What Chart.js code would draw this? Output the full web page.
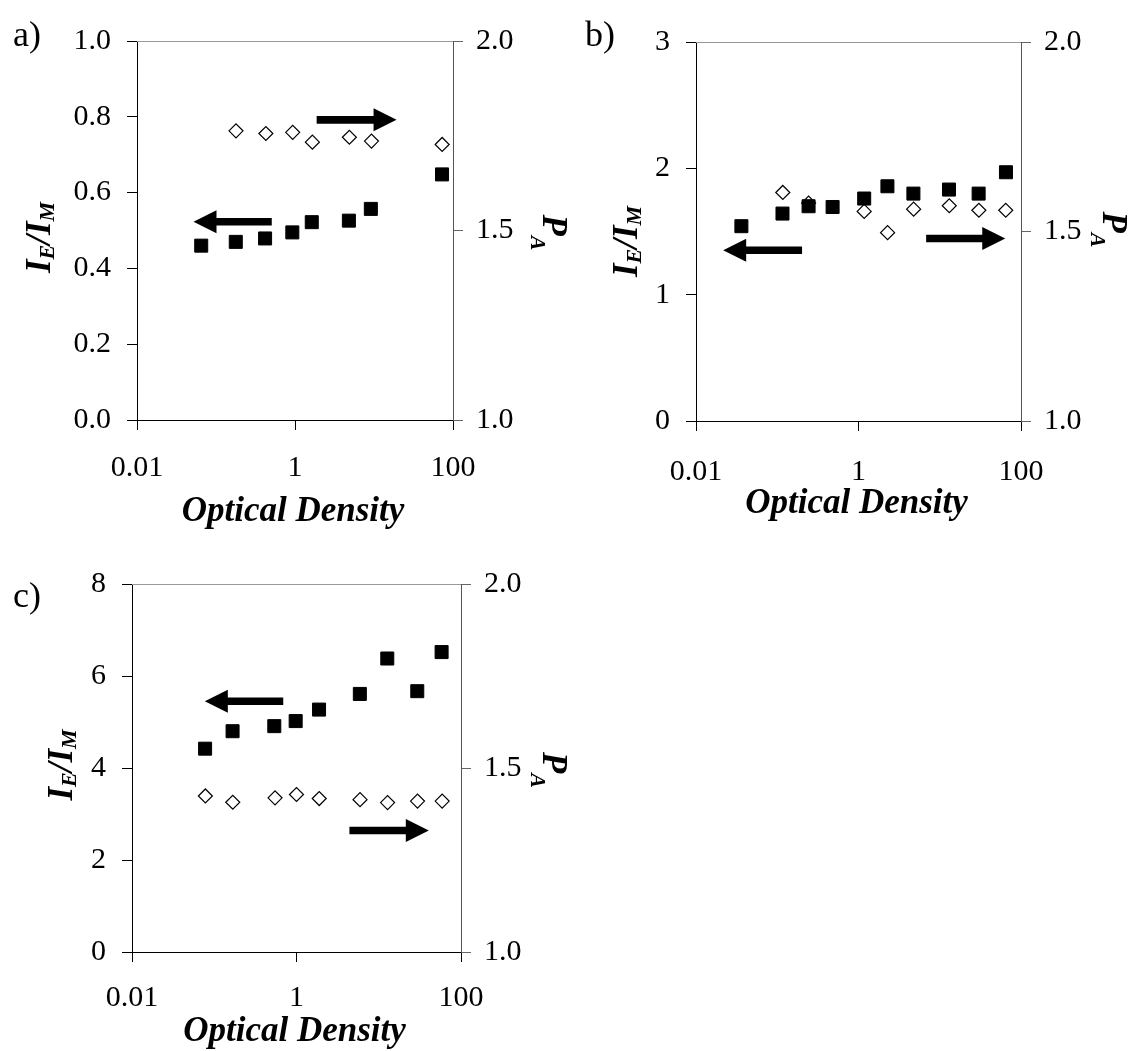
<!DOCTYPE html>
<html>
<head>
<meta charset="utf-8">
<title>Optical density panels</title>
<script src="https://cdn.jsdelivr.net/npm/chart.js@4.4.0/dist/chart.umd.min.js"></script>
<style>
  html, body { margin: 0; padding: 0; background: #fff; }
  #wrap { position: relative; width: 1132px; height: 1051px; overflow: hidden; }
  #wrap canvas { position: absolute; }
</style>
</head>
<body>
<div id="wrap">
  <canvas id="panelA" width="580" height="545" style="left:0;top:0;width:580px;height:545px"></canvas>
  <canvas id="panelB" width="572" height="545" style="left:560px;top:0;width:572px;height:545px"></canvas>
  <canvas id="panelC" width="580" height="531" style="left:0;top:520px;width:580px;height:531px"></canvas>
</div>
<script>
// ---- shared axis ticks ----
const xTicks = [0.01, 1, 100];
const xTickLabels = ['0.01', '1', '100'];
const paTicks = [1.0, 1.5, 2.0];
const paTickLabels = ['1.0', '1.5', '2.0'];

// ---- panel a) ----
const aRatioTicks = [0, 0.2, 0.4, 0.6, 0.8, 1.0];
const aRatioTickLabels = ['0.0', '0.2', '0.4', '0.6', '0.8', '1.0'];
const aOdRatio = [0.065, 0.178, 0.418, 0.925, 1.63, 4.81, 9.12, 72.6];
const aRatio = [0.460, 0.470, 0.479, 0.495, 0.522, 0.526, 0.557, 0.648];
const aOdPa = [0.179, 0.428, 0.935, 1.66, 4.88, 9.29, 72.9];
const aPa = [1.763, 1.756, 1.759, 1.733, 1.746, 1.736, 1.727];
const aArrowFrom = [0.508, 1.88];
const aArrowTo = [0.0519, 19.3];
const aArrowY = [0.523, 0.792];

// ---- panel b) ----
const bRatioTicks = [0, 1, 2, 3];
const bRatioTickLabels = ['0', '1', '2', '3'];
const bOdRatio = [0.0362, 0.116, 0.243, 0.480, 1.175, 2.27, 4.74, 13.0, 30.1, 65.3];
const bRatio = [1.542, 1.642, 1.700, 1.694, 1.761, 1.858, 1.800, 1.832, 1.800, 1.969];
const bOdPa = [0.117, 0.243, 1.175, 2.28, 4.77, 13.1, 30.3, 64.9];
const bPa = [1.603, 1.575, 1.553, 1.497, 1.559, 1.568, 1.556, 1.556];
const bArrowFrom = [0.202, 6.8];
const bArrowTo = [0.0216, 64];
const bArrowY = [1.352, 1.444];

// ---- panel c) ----
const cRatioTicks = [0, 2, 4, 6, 8];
const cRatioTickLabels = ['0', '2', '4', '6', '8'];
const cOdRatio = [0.0774, 0.167, 0.537, 0.977, 1.88, 5.89, 12.7, 29.4, 58.1];
const cRatio = [4.42, 4.80, 4.91, 5.02, 5.27, 5.61, 6.38, 5.67, 6.52];
const cOdPa = [0.078, 0.168, 0.548, 1.0, 1.89, 5.92, 12.8, 29.6, 59.0];
const cPa = [1.424, 1.407, 1.419, 1.428, 1.417, 1.414, 1.406, 1.410, 1.410];
const cArrowFrom = [0.69, 4.4];
const cArrowTo = [0.0768, 40.6];
const cArrowY = [5.45, 2.64];

const SERIF = "'Liberation Serif', 'Times New Roman', serif";

// draw a run of [text, isSub] pieces centred on 0, baseline at y=0
function drawRun(ctx, parts, bigSize, subSize, drop) {
  const fontFor = sub => `italic bold ${sub ? subSize : bigSize}px ${SERIF}`;
  let total = 0;
  parts.forEach(([t, sub]) => { ctx.font = fontFor(sub); total += ctx.measureText(t).width; });
  let x = -total / 2;
  parts.forEach(([t, sub]) => {
    ctx.font = fontFor(sub);
    ctx.fillText(t, x, sub ? drop : 0);
    x += ctx.measureText(t).width;
  });
}

// frame top line, arrows, axis titles and panel letter
const deco = {
  id: 'deco',
  afterDraw(chart, args, o) {
    const { ctx, chartArea: ca, scales } = chart;
    const midY = (ca.top + ca.bottom) / 2;
    ctx.save();

    ctx.strokeStyle = '#999';
    ctx.lineWidth = 1;
    ctx.beginPath();
    ctx.moveTo(ca.left, Math.round(ca.top) + 0.5);
    ctx.lineTo(ca.right, Math.round(ca.top) + 0.5);
    ctx.stroke();

    ctx.fillStyle = '#000';
    o.arrowFrom.forEach((f, i) => {
      const x0 = scales.x.getPixelForValue(f);
      const x1 = scales.x.getPixelForValue(o.arrowTo[i]);
      const y = scales.y.getPixelForValue(o.arrowY[i]);
      const d = Math.sign(x1 - x0), head = 23, half = 11.5, shaft = 3.8;
      ctx.beginPath();
      ctx.moveTo(x0, y - shaft);
      ctx.lineTo(x1 - d * head, y - shaft);
      ctx.lineTo(x1 - d * head, y - half);
      ctx.lineTo(x1, y);
      ctx.lineTo(x1 - d * head, y + half);
      ctx.lineTo(x1 - d * head, y + shaft);
      ctx.lineTo(x0, y + shaft);
      ctx.closePath();
      ctx.fill();
    });

    ctx.textBaseline = 'alphabetic';
    ctx.textAlign = 'left';

    // x title
    ctx.save();
    ctx.translate((ca.left + ca.right) / 2 - 2, ca.bottom + o.xTitleDy);
    drawRun(ctx, [['Optical Density', false]], 35, 35, 0);
    ctx.restore();

    // left title I_E/I_M
    ctx.save();
    ctx.translate(ca.left + o.yTitleDx, midY + o.yTitleDy);
    ctx.rotate(-Math.PI / 2);
    drawRun(ctx, [['I', false], ['E', true], ['/I', false], ['M', true]], 35, 22, 4);
    ctx.restore();

    // right title P_A
    ctx.save();
    ctx.translate(ca.right + o.paTitleDx, midY + o.paTitleDy);
    ctx.rotate(Math.PI / 2);
    drawRun(ctx, [['P', false], ['A', true]], 35, 22, 12);
    ctx.restore();

    // panel letter
    ctx.font = `36px ${SERIF}`;
    ctx.fillText(o.letter, o.letterX, o.letterY);

    ctx.restore();
  }
};

function buildPanel(id, p) {
  const tickFont = { family: SERIF, size: 30 };
  const axisGrid = color => ({ display: true, drawOnChartArea: false, drawTicks: true, tickLength: 10, color: color, lineWidth: 1 });
  return new Chart(document.getElementById(id), {
    type: 'scatter',
    data: {
      datasets: [
        {
          data: p.odRatio.map((x, i) => ({ x: x, y: p.ratio[i] })),
          yAxisID: 'y', pointStyle: 'rect', pointRadius: 9.2,
          backgroundColor: '#000', borderColor: '#000', borderWidth: 1
        },
        {
          data: p.odPa.map((x, i) => ({ x: x, y: p.pa[i] })),
          yAxisID: 'y2', pointStyle: 'rectRot', pointRadius: 7,
          backgroundColor: '#fff', borderColor: '#000', borderWidth: 1.2
        }
      ]
    },
    options: {
      responsive: false,
      animation: false,
      events: [],
      layout: { padding: { top: p.padTop, left: 0, right: 0, bottom: 0 } },
      plugins: {
        legend: { display: false },
        tooltip: { enabled: false },
        deco: p.deco
      },
      scales: {
        x: {
          type: 'logarithmic', position: 'bottom', min: 0.01, max: 100,
          afterBuildTicks: s => { s.ticks = xTicks.map(v => ({ value: v })); },
          afterFit: s => { s.height = p.xHeight; },
          ticks: { callback: (v, i) => xTickLabels[i], font: tickFont, color: '#000', padding: p.xPad, autoSkip: false, maxRotation: 0 },
          grid: axisGrid('#000'),
          border: { display: true, color: '#000', width: 1 }
        },
        y: {
          type: 'linear', position: 'left', min: 0, max: p.yMax,
          afterBuildTicks: s => { s.ticks = p.yTicks.map(v => ({ value: v })); },
          afterFit: s => { s.width = p.leftWidth; },
          ticks: { callback: (v, i) => p.yTickLabels[i], font: tickFont, color: '#000', padding: 16 },
          grid: axisGrid('#000'),
          border: { display: true, color: '#000', width: 1 }
        },
        y2: {
          type: 'linear', position: 'right', min: 1, max: 2,
          afterBuildTicks: s => { s.ticks = paTicks.map(v => ({ value: v })); },
          afterFit: s => { s.width = p.rightWidth; },
          ticks: { callback: (v, i) => paTickLabels[i], font: tickFont, color: '#000', padding: 13 },
          grid: axisGrid('#666'),
          border: { display: true, color: '#555', width: 1 }
        }
      }
    },
    plugins: [deco]
  });
}

buildPanel('panelA', {
  odRatio: aOdRatio, ratio: aRatio, odPa: aOdPa, pa: aPa,
  yMax: 1, yTicks: aRatioTicks, yTickLabels: aRatioTickLabels,
  padTop: 41, xHeight: 125, leftWidth: 137, rightWidth: 127, xPad: 20,
  deco: { arrowFrom: aArrowFrom, arrowTo: aArrowTo, arrowY: aArrowY,
          xTitleDy: 101, yTitleDx: -87, yTitleDy: 7, paTitleDx: 90, paTitleDy: 2,
          letter: 'a)', letterX: 13, letterY: 46 }
});

buildPanel('panelB', {
  odRatio: bOdRatio, ratio: bRatio, odPa: bOdPa, pa: bPa,
  yMax: 3, yTicks: bRatioTicks, yTickLabels: bRatioTickLabels,
  padTop: 42, xHeight: 124, leftWidth: 136, rightWidth: 111, xPad: 23,
  deco: { arrowFrom: bArrowFrom, arrowTo: bArrowTo, arrowY: bArrowY,
          xTitleDy: 92, yTitleDx: -59, yTitleDy: 10, paTitleDx: 82, paTitleDy: -2,
          letter: 'b)', letterX: 25, letterY: 46 }
});

buildPanel('panelC', {
  odRatio: cOdRatio, ratio: cRatio, odPa: cOdPa, pa: cPa,
  yMax: 8, yTicks: cRatioTicks, yTickLabels: cRatioTickLabels,
  padTop: 64, xHeight: 99, leftWidth: 132, rightWidth: 119, xPad: 18,
  deco: { arrowFrom: cArrowFrom, arrowTo: cArrowTo, arrowY: cArrowY,
          xTitleDy: 89, yTitleDx: -60, yTitleDy: -3, paTitleDx: 82, paTitleDy: 2,
          letter: 'c)', letterX: 13, letterY: 87 }
});
</script>
</body>
</html>
